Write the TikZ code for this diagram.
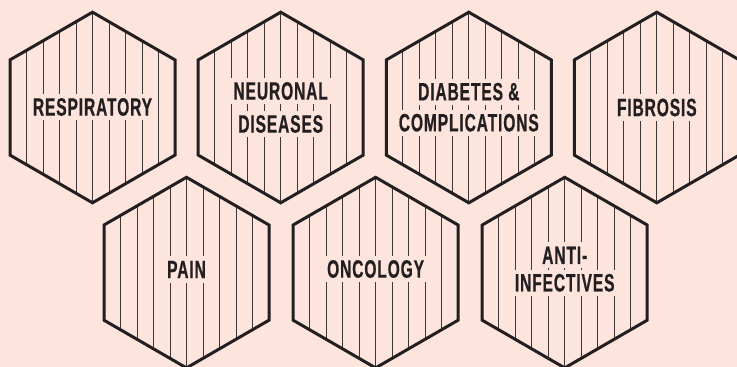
\documentclass[tikz,border=0pt]{standalone}
\usepackage{fontspec}
\newfontfamily\hexfont{Liberation Sans}[FakeStretch=0.62,LetterSpace=3.5,FakeBold=0.6]
\definecolor{bg}{RGB}{253,228,221}
\definecolor{ink}{RGB}{35,31,32}
\definecolor{hatch}{RGB}{62,54,55}
\tikzset{
  hexline/.style={draw=ink, line width=3pt},
  hatchline/.style={draw=hatch, line width=0.9pt},
  lbl/.style={font=\hexfont\bfseries\fontsize{25.1}{25.1}\selectfont, text=ink, fill=bg,
    inner xsep=3pt, inner ysep=4.5pt, text height=17.3pt, text depth=0pt}
}
\newcommand{\hexcell}[2]{%
  \begin{scope}
    \clip (#1,#2-95.3) -- (#1+82.5,#2-47.6) -- (#1+82.5,#2+47.6) -- (#1,#2+95.3)
      -- (#1-82.5,#2+47.6) -- (#1-82.5,#2-47.6) -- cycle;
    \foreach \k in {-4,...,4} \draw[hatchline] (#1+\k*16.5,#2-97) -- (#1+\k*16.5,#2+97);
  \end{scope}
  \draw[hexline] (#1,#2-95.3) -- (#1+82.5,#2-47.6) -- (#1+82.5,#2+47.6) -- (#1,#2+95.3)
      -- (#1-82.5,#2+47.6) -- (#1-82.5,#2-47.6) -- cycle;
}
\begin{document}
\begin{tikzpicture}[x=1pt,y=-1pt]
  \useasboundingbox (0,0) rectangle (737,367);
  \clip (0,0) rectangle (737,367);
  \fill[bg] (0,0) rectangle (737,367);
  % top row
  \hexcell{92.5}{107.5}
  \hexcell{280.7}{107.5}
  \hexcell{468.8}{107.5}
  \hexcell{656.8}{107.5}
  % bottom row
  \hexcell{186.5}{272.6}
  \hexcell{375.6}{272.6}
  \hexcell{564.7}{272.6}
  % labels
  \node[lbl] (resp) at (92.5,107) {RESPIRATORY};
  \node[lbl] (neur1) at (280.7,91) {NEURONAL};
  \node[lbl] (neur2) at (280.7,124) {DISEASES};
  \node[lbl] (diab1) at (468.8,91.7) {DIABETES \&};
  \node[lbl] (diab2) at (468.8,122.7) {COMPLICATIONS};
  \node[lbl] (fibr) at (656.8,107.5) {FIBROSIS};
  \node[lbl] (pain) at (186.5,269.5) {PAIN};
  \node[lbl] (onco) at (375.6,269) {ONCOLOGY};
  \node[lbl] (anti1) at (564.7,255.3) {ANTI-};
  \node[lbl] (anti2) at (564.7,282.8) {INFECTIVES};
\end{tikzpicture}
\end{document}
